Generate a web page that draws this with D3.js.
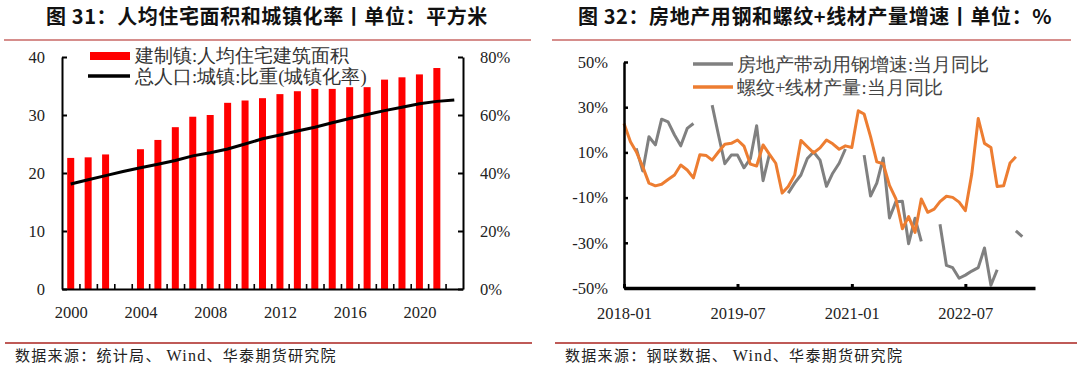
<!DOCTYPE html>
<html>
<head>
<meta charset="utf-8">
<script src="https://cdn.jsdelivr.net/npm/d3@7"></script>
<style>
  body { margin: 0; background: #fff; }
  svg text { font-family: "Liberation Serif", "Times New Roman", serif; }
</style>
</head>
<body>
<script>
// ---- figure 31: housing area per capita (bars) and urbanisation rate (line)
const areaYears = [2000, 2001, 2002, 2004, 2005, 2006, 2007, 2008, 2009, 2010, 2011,
                   2012, 2013, 2014, 2015, 2016, 2017, 2018, 2019, 2020, 2021];
const areaValues = [22.6, 22.7, 23.2, 24.1, 25.7, 27.9, 29.7, 30.0, 32.1, 32.5, 32.9,
                    33.6, 34.1, 34.5, 34.5, 34.8, 34.8, 36.1, 36.5, 37.0, 38.1];
const urbanYears = d3.range(2000, 2023);
const urbanRate = [36.2, 37.7, 39.1, 40.5, 41.8, 43.0, 44.3, 45.9, 47.0, 48.3, 50.0, 51.8,
                   53.1, 54.5, 55.8, 57.3, 58.8, 60.2, 61.5, 62.7, 63.9, 64.7, 65.2];
const yearLabels = [2000, 2004, 2008, 2012, 2016, 2020];

// ---- figure 32: monthly YoY, starting 2018-01 (null = no data)
const steelYoY = [null, null, 11.8, 1.8, 16.9, 13.3, 24.7, 23.5, 17.7, 12.9, 20.6, 22.8,
                  null, null, 30.9, 17.5, 5.0, 8.8, 8.8, 3.2, 7.2, 21.8, -2.5, 9.0,
                  null, null, -8.0, -3.6, 0.0, 7.3, 10.2, 6.6, -5.0, 0.8, 5.2, 11.5,
                  null, null, 8.8, -9.3, -3.6, 7.5, -19.0, -11.8, -11.6, -30.4, -19.1, -29.4,
                  null, null, -21.8, -40.0, -41.0, -45.7, -44.3, -42.5, -41.0, -32.3, -48.8, -41.9,
                  null, null, -24.7, -27.3];
const rebarYoY = [22.8, 14.7, 10.3, 3.7, -3.6, -4.8, -4.1, -2.0, 0.0, 4.4, 2.2, -1.3,
                  9.0, 8.6, 6.6, 10.3, 13.6, 14.0, 15.5, 12.8, 4.8, 4.0, 13.3, 9.2,
                  5.2, -8.0, -5.1, 0.0, 15.3, 12.5, 9.8, 12.0, 15.5, 13.8, 11.4, 12.9,
                  12.2, 28.4, 27.0, 17.0, 5.8, 5.0, -4.6, -10.6, -23.8, -18.4, -25.4, -10.6,
                  -16.5, -15.1, -11.8, -9.4, -9.9, -12.0, -15.8, 0.5, 25.0, 14.0, 12.2, -5.1,
                  -4.8, 5.3, 8.1];
const monthTicks = ["2018-01", "2019-07", "2021-01", "2022-07"];
const pctTicks = [-50, -30, -10, 10, 30, 50];

const svg = d3.select("body").append("svg")
    .attr("width", 1080)
    .attr("height", 368)
    .style("background", "#fff");

// titles, rules and sources
const panels = [
  { title: "图 31：人均住宅面积和城镇化率丨单位：平方米", cx: 267, x0: 4, x1: 531,
    src: ["数据来源：统计局、 ", "Wind", "、华泰期货研究院"], sx: 15, fx0: 5, fx1: 532 },
  { title: "图 32：房地产用钢和螺纹+线材产量增速丨单位：%", cx: 815, x0: 552, x1: 1071,
    src: ["数据来源：钢联数据、 ", "Wind", "、华泰期货研究院"], sx: 565, fx0: 555, fx1: 1077 }
];
panels.forEach(p => {
  svg.append("text")
      .attr("x", p.cx).attr("y", 24)
      .attr("text-anchor", "middle")
      .style("font-family", "'Noto Sans CJK SC', sans-serif")
      .style("font-weight", 700)
      .style("font-size", "20px")
      .style("letter-spacing", "0.6px")
      .attr("fill", "#111")
      .text(p.title);
  svg.append("line")
      .attr("x1", p.x0).attr("x2", p.x1).attr("y1", 40).attr("y2", 40)
      .attr("stroke", "#c86866").attr("stroke-width", 1.6);
  svg.append("line")
      .attr("x1", p.fx0).attr("x2", p.fx1).attr("y1", 343).attr("y2", 343)
      .attr("stroke", "#bf5a57").attr("stroke-width", 2.2);
  const t = svg.append("text")
      .attr("x", p.sx).attr("y", 361)
      .style("font-family", "'Noto Sans CJK SC', sans-serif")
      .style("font-size", "15px")
      .style("letter-spacing", "1.3px")
      .attr("fill", "#222");
  t.append("tspan").text(p.src[0]);
  t.append("tspan").style("font-family", "'Liberation Serif', serif").style("font-size", "16px").text(p.src[1]);
  t.append("tspan").text(p.src[2]);
});

function styleAxis(g, width) {
  g.attr("font-family", "'Liberation Serif', 'Times New Roman', serif")
   .attr("font-size", 16.5);
  g.selectAll("text").attr("fill", "#222");
  g.selectAll("path, line").attr("stroke", "#000").attr("stroke-width", width);
}

// ---------------- left chart
const gL = svg.append("g");
const xL = d3.scaleLinear().domain([1999.5, 2022.5]).range([62, 463]);
const yL = d3.scaleLinear().domain([0, 40]).range([289, 57]);
const yRate = d3.scaleLinear().domain([0, 80]).range([289, 57]);
const barW = 7;

gL.selectAll("rect.bar")
  .data(areaYears.map((y, i) => ({ year: y, v: areaValues[i] })))
  .join("rect")
    .attr("class", "bar")
    .attr("x", d => xL(d.year) - barW / 2)
    .attr("y", d => yL(d.v))
    .attr("width", barW)
    .attr("height", d => yL(0) - yL(d.v))
    .attr("fill", "#ff0000");

const rateLine = d3.line()
    .x((d, i) => xL(urbanYears[i]))
    .y(d => yRate(d));
gL.append("path")
    .datum(urbanRate)
    .attr("d", rateLine)
    .attr("fill", "none")
    .attr("stroke", "#000")
    .attr("stroke-width", 3);

gL.append("g")
    .attr("transform", "translate(62,0)")
    .call(d3.axisLeft(yL).tickValues([0, 10, 20, 30, 40]).tickSize(-5).tickSizeOuter(0).tickPadding(17))
    .call(g => styleAxis(g, 2));

gL.append("g")
    .attr("transform", "translate(463,0)")
    .call(d3.axisRight(yRate).tickValues([0, 20, 40, 60, 80]).tickSize(-5).tickSizeOuter(0).tickPadding(17)
      .tickFormat(d => d + "%"))
    .call(g => styleAxis(g, 2));

// year boundaries ticks
gL.append("g")
    .attr("transform", "translate(0,289)")
    .call(d3.axisBottom(xL).tickValues(d3.range(2000.5, 2022, 1)).tickSize(-5).tickSizeOuter(0).tickFormat(""))
    .call(g => styleAxis(g, 2))
    .call(g => g.selectAll(".tick line").attr("stroke-width", 1.6));

gL.append("g")
    .attr("transform", "translate(0,289)")
    .call(d3.axisBottom(xL).tickValues(yearLabels).tickSize(0).tickPadding(17).tickFormat(d3.format("d")))
    .call(g => styleAxis(g, 0))
    .call(g => g.select(".domain").remove());

// legend
const legL = gL.append("g").style("font-family", "'Noto Sans CJK SC', sans-serif").style("font-size", "18.5px");
legL.append("rect").attr("x", 90).attr("y", 52).attr("width", 40).attr("height", 8).attr("fill", "#ff0000");
legL.append("text").attr("x", 135).attr("y", 62).attr("fill", "#333").text("建制镇:人均住宅建筑面积");
legL.append("line").attr("x1", 88).attr("x2", 130).attr("y1", 76).attr("y2", 76)
    .attr("stroke", "#000").attr("stroke-width", 3.5);
legL.append("text").attr("x", 135).attr("y", 83).attr("fill", "#333").text("总人口:城镇:比重(城镇化率)");

// ---------------- right chart
const gR = svg.append("g");
const start = new Date(2018, 0, 1);
const xR = d3.scaleTime().domain([start, new Date(2023, 5, 1)]).range([624, 1035]);
const yR = d3.scaleLinear().domain([-50, 50]).range([288, 62]);
const monthOf = i => d3.timeMonth.offset(start, i);
const parseMonth = d3.timeParse("%Y-%m");

const seriesLine = d3.line()
    .defined(d => d != null)
    .x((d, i) => xR(monthOf(i)))
    .y(d => yR(d));

gR.append("path")
    .datum(steelYoY)
    .attr("d", seriesLine)
    .attr("fill", "none")
    .attr("stroke", "#808080")
    .attr("stroke-width", 3)
    .attr("stroke-linejoin", "round");

gR.append("path")
    .datum(rebarYoY)
    .attr("d", seriesLine)
    .attr("fill", "none")
    .attr("stroke", "#ed7d31")
    .attr("stroke-width", 3)
    .attr("stroke-linejoin", "round");

gR.append("g")
    .attr("transform", "translate(624,0)")
    .call(d3.axisLeft(yR).tickValues(pctTicks).tickSize(-4).tickSizeOuter(0).tickPadding(16)
      .tickFormat(d => d + "%"))
    .call(g => styleAxis(g, 2.5));

gR.append("g")
    .attr("transform", "translate(0,288)")
    .call(d3.axisBottom(xR).tickValues(monthTicks.map(parseMonth)).tickSize(-4).tickSizeOuter(0).tickPadding(19)
      .tickFormat(d3.timeFormat("%Y-%m")))
    .call(g => styleAxis(g, 3.5))
    .call(g => g.selectAll(".tick line").attr("stroke-width", 3));

// legend
const legR = gR.append("g").style("font-family", "'Noto Sans CJK SC', sans-serif").style("font-size", "18.5px");
legR.append("line").attr("x1", 693).attr("x2", 733).attr("y1", 64).attr("y2", 64)
    .attr("stroke", "#808080").attr("stroke-width", 3.5);
legR.append("text").attr("x", 737).attr("y", 71).attr("fill", "#444").text("房地产带动用钢增速:当月同比");
legR.append("line").attr("x1", 693).attr("x2", 733).attr("y1", 87).attr("y2", 87)
    .attr("stroke", "#ed7d31").attr("stroke-width", 3.5);
legR.append("text").attr("x", 737).attr("y", 94).attr("fill", "#444").text("螺纹+线材产量:当月同比");
</script>
</body>
</html>
